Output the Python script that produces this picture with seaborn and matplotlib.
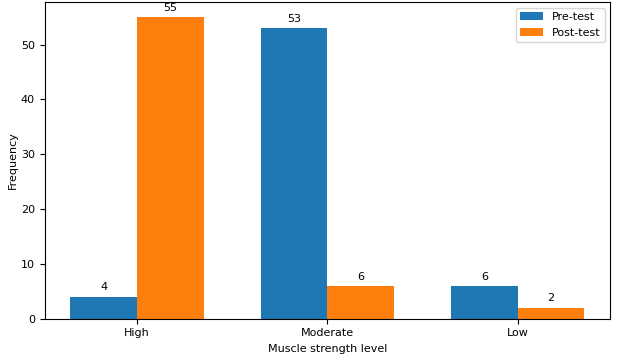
import pandas as pd
import seaborn as sns
import matplotlib
import matplotlib.pyplot as plt

matplotlib.use('Agg')

levels = ['High', 'Moderate', 'Low']
pre_test = [4, 53, 6]
post_test = [55, 6, 2]

df = pd.DataFrame({
	'Muscle strength level': levels * 2,
	'Frequency': pre_test + post_test,
	'Test': ['Pre-test'] * 3 + ['Post-test'] * 3,
})

fig, ax = plt.subplots(figsize=(6.2, 3.62), dpi=100)
sns.barplot(data=df, x='Muscle strength level', y='Frequency', hue='Test',
	palette=['#1f77b4', '#ff7f0e'], width=0.7, gap=0, saturation=1,
	order=levels, ax=ax)

# value labels on top of each bar
for container in ax.containers:
	ax.bar_label(container, padding=3, fontsize=8)

ax.set_xlim(-0.485, 2.485)
ax.set_xlabel('Muscle strength level', fontsize=8)
ax.set_ylabel('Frequency', fontsize=8, labelpad=2)
ax.tick_params(labelsize=8)
ax.legend(title=None, loc='upper right', fontsize=8)

plt.subplots_adjust(left=0.072, right=0.984, top=0.994, bottom=0.12)
plt.savefig('out.png', dpi=100)
